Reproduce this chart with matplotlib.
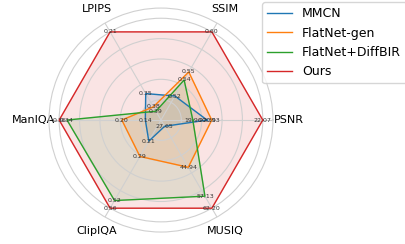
import numpy as np
import matplotlib.pyplot as plt

# radar chart of the restoration metrics
metrics = ['PSNR', 'SSIM', 'LPIPS', 'ManIQA', 'ClipIQA', 'MUSIQ']
methods = ['MMCN', 'FlatNet-gen', 'FlatNet+DiffBIR', 'Ours']
mmcn = [20.39, 0.52, 0.35, 0.14, 0.21, 27.65]
flatnet_gen = [20.53, 0.55, 0.38, 0.20, 0.29, 44.94]
flatnet_diffbir = [19.96, 0.54, 0.39, 0.34, 0.52, 57.13]
ours = [22.07, 0.60, 0.21, 0.36, 0.56, 62.20]
colors = ['#1f77b4', '#ff7f0e', '#2ca02c', '#d62728']

# value that sits at the centre of each axis (LPIPS: lower is better)
axis_floor = [19.0, 0.49, 0.41, 0.10, 0.10, 25.0]
lower_better = [False, False, True, False, False, False]

data = np.array([mmcn, flatnet_gen, flatnet_diffbir, ours])
best = np.where(lower_better, data.min(axis=0), data.max(axis=0))
floor = np.array(axis_floor)
norm = (data - floor) / (best - floor)

angles = np.linspace(0, 2 * np.pi, len(metrics), endpoint=False)

fig = plt.figure(figsize=(4.05, 2.44), dpi=100)
ax = fig.add_axes([0.121, 0.049, 0.553, 0.918], projection='polar')

for i, name in enumerate(methods):
    r = np.append(norm[i], norm[i][0])
    th = np.append(angles, angles[0])
    ax.plot(th, r, color=colors[i], linewidth=1, label=name)
    ax.fill(th, r, color=colors[i], alpha=0.12)
    for a, rr, v in zip(angles, norm[i], data[i]):
        ax.text(a, rr, f'{v:.2f}', fontsize=4.5, ha='center', va='center',
                color='#333333')

ax.set_ylim(0, 1.1)
ax.set_yticks([0.2, 0.4, 0.6, 0.8, 1.0])
ax.set_yticklabels([])
ax.set_xticks(angles)
ax.set_xticklabels(metrics, fontsize=8)
ax.grid(color='#d0d0d0', linewidth=0.8)
ax.spines['polar'].set_color('#d0d0d0')
ax.spines['polar'].set_linewidth(0.8)
ax.tick_params(axis='x', pad=1)

ax.legend(loc='upper left', bbox_to_anchor=(0.647, 0.99), borderaxespad=0,
          bbox_transform=fig.transFigure, fontsize=9)

fig.savefig('out.png', dpi=100)
